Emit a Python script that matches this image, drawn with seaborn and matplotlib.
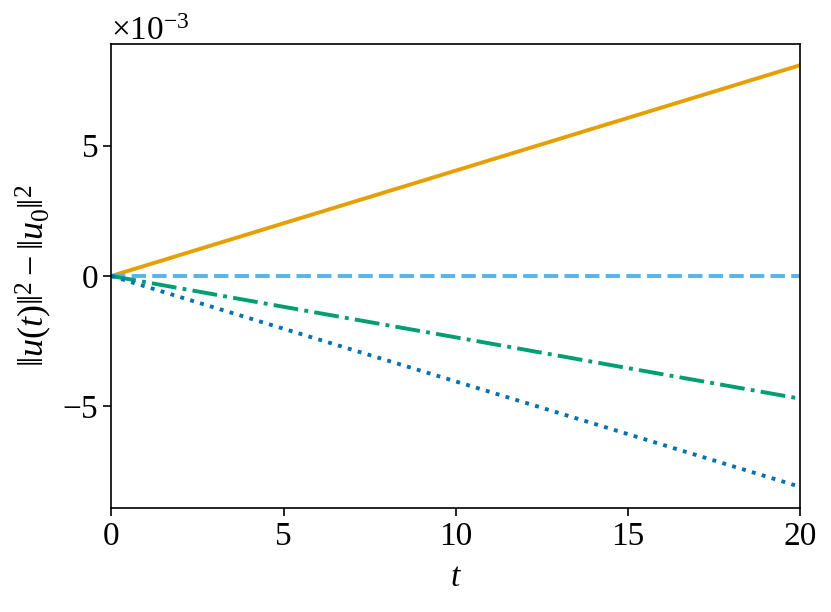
import numpy as np
import pandas as pd
import matplotlib
matplotlib.use('Agg')
import matplotlib.pyplot as plt
import seaborn as sns

# time samples and energy drift values (units of 1e-3)
t = [0, 5, 10, 15, 20]
drift_orange = [0.0, 2.02, 4.04, 6.06, 8.08]
drift_skyblue = [0.0, 0.0, 0.0, 0.0, 0.0]
drift_green = [0.0, -1.18, -2.35, -3.53, -4.70]
drift_blue = [0.0, -2.02, -4.04, -6.06, -8.08]

sns.set_style('ticks')
plt.rcParams['font.family'] = ['Liberation Serif', 'DejaVu Serif']
plt.rcParams['mathtext.fontset'] = 'custom'
plt.rcParams['mathtext.rm'] = 'Liberation Serif'
plt.rcParams['mathtext.it'] = 'Liberation Serif:italic'
plt.rcParams['mathtext.bf'] = 'Liberation Serif:bold'
for k in ['text.color', 'axes.labelcolor', 'xtick.color', 'ytick.color', 'axes.edgecolor']:
    plt.rcParams[k] = 'black'

fs = 24
fig, ax = plt.subplots(figsize=(8.31, 6.12), dpi=100)

lw = 2.8
sns.lineplot(x=t, y=np.array(drift_orange) * 1e-3, ax=ax, color='#E69F00', lw=lw, linestyle='-')
sns.lineplot(x=t, y=np.array(drift_skyblue) * 1e-3, ax=ax, color='#56B4E9', lw=lw, linestyle='--')
sns.lineplot(x=t, y=np.array(drift_green) * 1e-3, ax=ax, color='#009E73', lw=lw, linestyle='-.')
sns.lineplot(x=t, y=np.array(drift_blue) * 1e-3, ax=ax, color='#0072B2', lw=lw, linestyle=':')

ax.set_xlim(0, 20)
ax.set_xticks([0, 5, 10, 15, 20])
ax.set_yticks([-5e-3, 0, 5e-3])
ax.ticklabel_format(axis='y', style='sci', scilimits=(0, 0), useMathText=True)
ax.yaxis.get_offset_text().set_fontsize(fs)
ax.tick_params(labelsize=fs, width=1.2, length=6)
for s in ax.spines.values():
    s.set_linewidth(1.2)

ax.set_xlabel(r'$t$', fontsize=fs, labelpad=8)
ax.set_ylabel(r'$\Vert u(t)\Vert^2 - \Vert u_0\Vert^2$', fontsize=26, labelpad=6)

plt.subplots_adjust(left=0.134, right=0.963, top=0.928, bottom=0.17)
plt.savefig('out.png', dpi=100)
